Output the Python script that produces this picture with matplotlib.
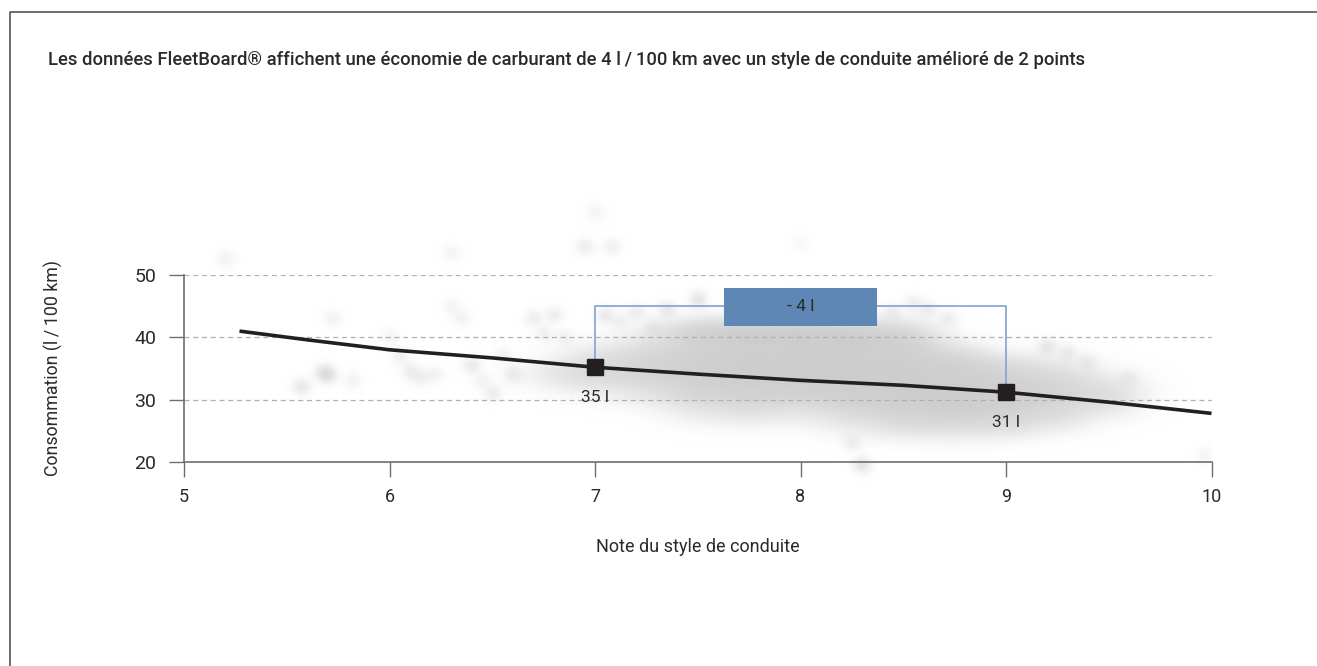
import matplotlib
matplotlib.use("Agg")
import matplotlib.pyplot as plt
import numpy as np
from matplotlib.colors import LinearSegmentedColormap
from matplotlib.patches import Rectangle

plt.rcParams['font.family'] = ['Roboto', 'DejaVu Sans']

title = "Les données FleetBoard® affichent une économie de carburant de 4 l\u2009/\u2009100 km avec un style de conduite amélioré de 2 points"
x_label = "Note du style de conduite"
y_label = "Consommation (l\u2009/\u2009100 km)"
x_ticks = [5, 6, 7, 8, 9, 10]
y_ticks = [20, 30, 40, 50]

# trend line
line_x = [5.27, 5.6, 6, 6.5, 7, 7.5, 8, 8.5, 9, 9.5, 10]
line_y = [41.0, 39.6, 38.0, 36.7, 35.2, 34.1, 33.1, 32.3, 31.2, 29.6, 27.8]

point_x = [7, 9]
point_y = [35.2, 31.2]
point_labels = ["35 l", "31 l"]
point_label_y = [30.3, 26.3]

bracket_y = 45
box_x = [7.63, 8.37]
box_y = [41.8, 47.9]
box_label = "- 4 l"

# grey cloud: blob centre and strength estimated by eye
body_x = [6.8,
          7.0, 7.0, 7.0,
          7.25, 7.25, 7.25, 7.25,
          7.5, 7.5, 7.5, 7.5, 7.5,
          7.75, 7.75, 7.75, 7.75, 7.75,
          8.0, 8.0, 8.0, 8.0, 8.0,
          8.25, 8.25, 8.25, 8.25, 8.25, 8.25,
          8.5, 8.5, 8.5, 8.5, 8.5, 8.5,
          8.75, 8.75, 8.75, 8.75, 8.75,
          9.0, 9.0, 9.0, 9.0,
          9.25, 9.25, 9.25, 9.25,
          9.5, 9.5, 9.5]
body_y = [34,
          34.5, 37, 32,
          31, 34, 37, 40,
          28, 31, 34, 37, 40.5,
          28, 31, 34, 37, 40.5,
          28, 31, 34, 37, 40.5,
          26, 29, 32, 35, 38, 40.5,
          26, 29, 32, 35, 38, 40.5,
          25.5, 28.5, 31.5, 34.5, 37,
          26, 29, 32, 35,
          27, 30, 33, 35.5,
          29, 31, 33]
body_w = [0.15,
          0.25, 0.15, 0.1,
          0.15, 0.35, 0.3, 0.1,
          0.12, 0.35, 0.45, 0.45, 0.5,
          0.2, 0.4, 0.5, 0.5, 0.65,
          0.12, 0.4, 0.5, 0.5, 0.65,
          0.12, 0.35, 0.5, 0.5, 0.45, 0.5,
          0.25, 0.45, 0.5, 0.5, 0.4, 0.35,
          0.2, 0.5, 0.5, 0.45, 0.25,
          0.25, 0.45, 0.45, 0.3,
          0.2, 0.35, 0.3, 0.1,
          0.12, 0.2, 0.08]

spot_x = [5.2, 5.57, 5.68, 5.7, 5.72, 5.82, 6.0, 6.05, 6.1, 6.15, 6.22, 6.4, 6.45, 6.55, 6.6,
          6.7, 6.75, 6.35, 6.3, 6.5, 6.8, 7.05, 7.2, 7.35, 7.5, 7.75, 8.0, 8.3, 8.25, 9.97,
          7.0, 6.95, 7.08, 6.3, 7.95, 8.55, 9.2, 9.3, 6.85, 7.12, 7.28, 8.45, 8.62, 8.72, 9.4, 9.6]
spot_y = [52.5, 32.0, 34.3, 33.8, 43.0, 33.0, 40.0, 37.0, 34.5, 33.5, 34.0, 35.5, 33.0, 37.0, 34.0,
          43.0, 40.5, 43.0, 53.5, 31.0, 43.5, 43.5, 44.0, 44.5, 46.0, 45.0, 55.0, 19.5, 23.0, 21.0,
          60.0, 54.5, 54.5, 45.0, 46.0, 45.5, 38.5, 37.5, 40.0, 42.5, 41.5, 44.0, 44.5, 43.0, 36.0, 33.5]
spot_w = [0.11, 0.22, 0.28, 0.2, 0.11, 0.11, 0.09, 0.14, 0.16, 0.14, 0.11, 0.2, 0.11, 0.11, 0.16,
          0.16, 0.14, 0.11, 0.09, 0.16, 0.16, 0.2, 0.16, 0.2, 0.25, 0.16, 0.05, 0.28, 0.14, 0.09,
          0.09, 0.16, 0.14, 0.09, 0.09, 0.14, 0.22, 0.16, 0.11, 0.11, 0.14, 0.14, 0.16, 0.14, 0.14, 0.11]

text_col = "#2b2a29"
axis_col = "#6e6e6e"
grid_col = "#b0b0b0"
dark = "#231f20"
blue = "#5f87b5"
blue_line = "#7fa3cf"

fig = plt.figure(figsize=(13.17, 6.66), dpi=100)
W, H = 1317, 666
left, right, top, bottom = 184, 1211.5, 275, 462
ax = fig.add_axes([left / W, 1 - bottom / H, (right - left) / W, (bottom - top) / H])

# cloud is summed up on a grid and shown as a soft image
gx, gy = np.meshgrid(np.linspace(5, 10, 700), np.linspace(15, 65, 700))
dens = np.zeros_like(gx)
for bx, by, w in zip(body_x, body_y, body_w):
    dens += w * np.exp(-((gx - bx) / 0.13) ** 2 / 2 - ((gy - by) / 1.7) ** 2 / 2)
for bx, by, w in zip(spot_x, spot_y, spot_w):
    dens += w * np.exp(-((gx - bx) / 0.03) ** 2 / 2 - ((gy - by) / 0.9) ** 2 / 2)
dens = 1 - np.exp(-2.2 * dens)
cmap = LinearSegmentedColormap.from_list("cloud", ["#ffffff", "#c6c6c6"])
ax.imshow(dens, extent=[5, 10, 15, 65], origin="lower", cmap=cmap, vmin=0, vmax=1,
          aspect="auto", zorder=0, clip_on=False)

ax.set_xlim(5, 10)
ax.set_ylim(20, 50)
ax.patch.set_alpha(0)

for v in [30, 40, 50]:
    ax.plot([5, 10], [v, v], color=grid_col, lw=0.9, dashes=(4, 3), zorder=1)

# bracket between both points
ax.plot([point_x[0], point_x[0], point_x[1], point_x[1]],
        [point_y[0], bracket_y, bracket_y, point_y[1]], color=blue_line, lw=1.2, zorder=2)
ax.add_patch(Rectangle((box_x[0], box_y[0]), box_x[1] - box_x[0], box_y[1] - box_y[0],
                       facecolor=blue, edgecolor="none", zorder=3))
ax.text(sum(box_x) / 2, 44.95, box_label, ha="center", va="center", fontsize=12.5,
        color=text_col, zorder=4)

ax.plot(line_x, line_y, color=dark, lw=2.6, zorder=5, solid_capstyle="butt")
ax.plot(point_x, point_y, ls="none", marker="s", ms=11, color=dark, zorder=6)
for px, py, lab in zip(point_x, point_label_y, point_labels):
    ax.text(px, py, lab, ha="center", va="center", fontsize=12.5, color=text_col, zorder=6)

for s in ["top", "right"]:
    ax.spines[s].set_visible(False)
for s in ["left", "bottom"]:
    ax.spines[s].set_color(axis_col)
    ax.spines[s].set_linewidth(1.2)
    ax.spines[s].set_zorder(2)
ax.spines["left"].set_bounds(20, 50)

ax.set_xticks(x_ticks)
ax.set_yticks(y_ticks)
ax.tick_params(axis="both", length=11, width=1.0, color=axis_col, labelsize=14,
               labelcolor=text_col)
ax.tick_params(axis="x", pad=8)
ax.tick_params(axis="y", pad=9)
ax.tick_params(axis="x", labelsize=13)

fig.text(48 / W, 1 - 60 / H, title, fontsize=13.35, fontweight=500, color=text_col,
         ha="left", va="center")
fig.text(698 / W, 1 - 547 / H, x_label, fontsize=13, color=text_col, ha="center", va="center")
fig.text(53 / W, 1 - 368 / H, y_label, fontsize=12.8, color=text_col, ha="center", va="center",
         rotation=90)

# outer frame, only left and top are visible
fig.add_artist(plt.Line2D([10 / W, 10 / W, 1], [0, 1 - 12 / H, 1 - 12 / H], color="#555555", lw=1.2))

fig.savefig("out.png", dpi=100)
